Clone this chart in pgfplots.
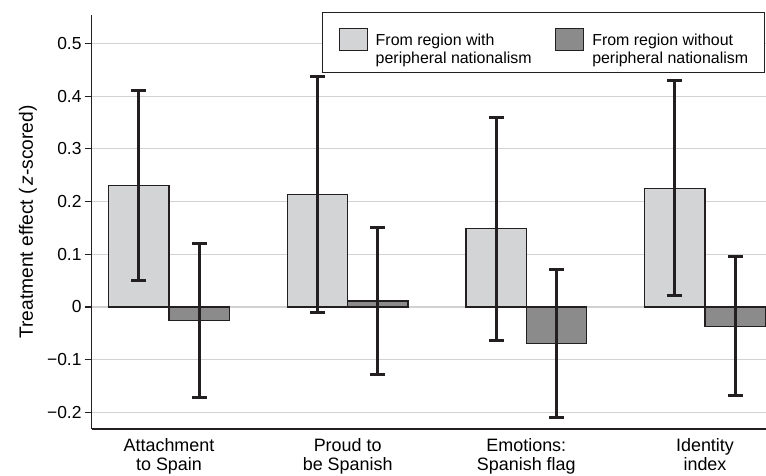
\documentclass[border=0pt]{standalone}
\usepackage{fontspec}
\setmainfont{Liberation Sans}
\usepackage{pgfplots}
\pgfplotsset{compat=1.18}
\usepackage{pgfplotstable}

\definecolor{ink}{RGB}{35,31,32}
\definecolor{barlight}{RGB}{211,212,214}
\definecolor{bardark}{RGB}{139,139,139}
\definecolor{gridgray}{RGB}{210,210,210}

\pgfplotsset{
  swatch legend/.style={
    legend image code/.code={\draw[##1] (0bp,-5.3bp) rectangle (28bp,16bp);}},
  ci bars/.style={
    error bars/.cd, y dir=both, y explicit,
    error mark=|,
    error bar style={line width=2.8bp, draw=ink},
    error mark options={draw=ink, line width=2.8bp, mark size=7.5bp}},
}

% Treatment effects with 95% CI half-widths (upper, lower)
\pgfplotstableread{
x y      ep     em
0 0.230  0.180  0.180
1 0.2135 0.2245 0.2245
2 0.149  0.211  0.212
3 0.225  0.205  0.2035
}\withnat

\pgfplotstableread{
x y       ep     em
0 -0.025  0.146  0.147
1 0.0114  0.139  0.139
2 -0.070  0.1415 0.140
3 -0.0366 0.1326 0.1314
}\withoutnat

\begin{document}
\begin{tikzpicture}
\useasboundingbox (-91.7bp,-46.5bp) rectangle (674.3bp,429bp);
\begin{axis}[
  scale only axis, width=674.3bp, height=414bp,
  xmin=-0.4326, xmax=3.3414, ymin=-0.2315, ymax=0.554,
  axis x line*=bottom, axis y line*=left,
  axis line style={draw=ink, line width=1.2bp, -},
  ybar, bar width=60.3bp,
  xtick={0,1,2,3},
  xticklabels={{Attachment\\to Spain},{Proud to\\be Spanish},{Emotions:\\Spanish flag},{Identity\\index}},
  xticklabel style={align=center, font=\fontsize{18}{19.3}\selectfont, inner sep=0pt, anchor=north, yshift=-2bp},
  xtick style={draw=none},
  ytick={-0.2,-0.1,0,0.1,0.2,0.3,0.4,0.5},
  yticklabels={−0.2,−0.1,0,0.1,0.2,0.3,0.4,0.5},
  yticklabel style={font=\fontsize{17.5}{20}\selectfont, inner sep=0pt, anchor=east, xshift=-3bp},
  ytick style={draw=ink, line width=1.2bp},
  tick align=outside, major tick length=7bp,
  ymajorgrids, grid style={draw=gridgray, line width=1.2bp},
  ylabel={Treatment effect (\kern2.5bp\textit{z}-scored)},
  ylabel style={at={(axis description cs:-0.0871,0.5)}, anchor=base, font=\fontsize{19.3}{22}\selectfont},
  legend columns=2,
  legend cell align=left,
  legend style={at={(rel axis cs:0.9981,1.00652)}, anchor=north east,
    draw=ink, line width=1bp, fill=white,
    font=\fontsize{16}{18.3}\selectfont,
    inner xsep=16bp, inner ysep=15.5bp,
    nodes={inner sep=0pt, anchor=west},
    /tikz/every odd column/.append style={column sep=8bp},
    /tikz/every even column/.append style={column sep=23.5bp}},
]
\addplot[fill=barlight, draw=ink, line width=1.1bp, bar shift=-30.15bp,
  swatch legend, ci bars]
  table[x=x, y=y, y error plus=ep, y error minus=em]{\withnat};
\addlegendentry{\begin{tabular}{@{}l@{}}From region with\\peripheral nationalism\end{tabular}}
\addplot[fill=bardark, draw=ink, line width=1.1bp, bar shift=30.15bp,
  swatch legend, ci bars]
  table[x=x, y=y, y error plus=ep, y error minus=em]{\withoutnat};
\addlegendentry{\begin{tabular}{@{}l@{}}From region without\\peripheral nationalism\end{tabular}}
\end{axis}
\end{tikzpicture}
\end{document}
